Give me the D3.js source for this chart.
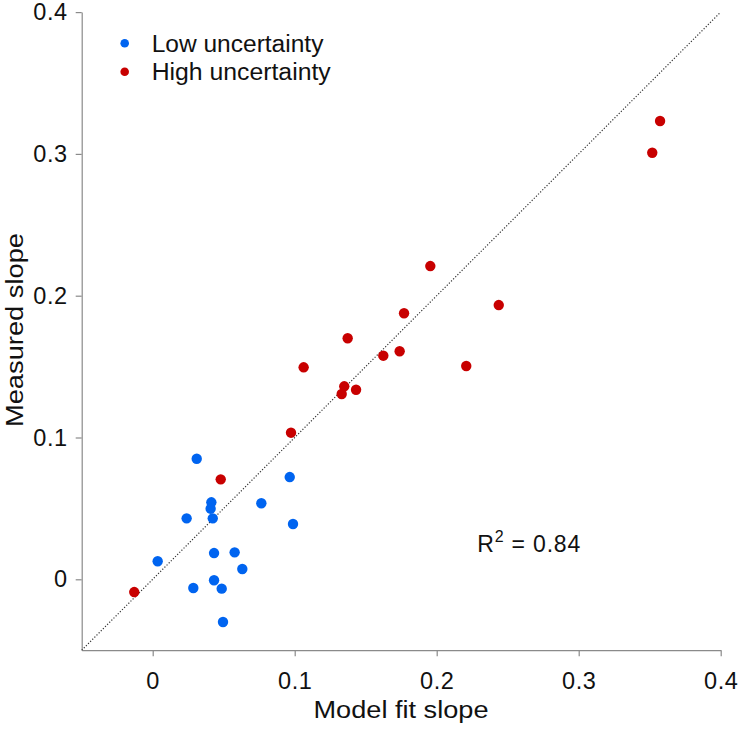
<!DOCTYPE html>
<html>
<head>
<meta charset="utf-8">
<script src="https://cdn.jsdelivr.net/npm/d3@7"></script>
<style>
  html, body { margin: 0; padding: 0; background: #fff; }
  svg { display: block; }
  text { font-family: "Liberation Sans", Arial, Helvetica, sans-serif; fill: #111; }
</style>
</head>
<body>
<svg id="chart" width="740" height="729"></svg>
<script>
// ---- Data ----
const lowX  = [0.031, 0.0413, 0.0408, 0.0239, 0.0423, 0.0765, 0.0965, 0.0988, 0.0035, 0.0432, 0.0577, 0.0631, 0.0432, 0.0286, 0.0486, 0.0495];
const lowY  = [0.085, 0.0543, 0.0498, 0.043, 0.043, 0.0536, 0.0721, 0.039, 0.0127, 0.0185, 0.019, 0.0073, -0.0007, -0.0061, -0.0066, -0.0301];
const highX = [-0.013, 0.0479, 0.0974, 0.1063, 0.1349, 0.1331, 0.1432, 0.1373, 0.1624, 0.1739, 0.177, 0.1955, 0.2437, 0.2208, 0.3518, 0.3573];
const highY = [-0.009, 0.0705, 0.1034, 0.1495, 0.1361, 0.1307, 0.1337, 0.170, 0.1577, 0.1608, 0.1876, 0.2209, 0.1934, 0.1504, 0.3008, 0.3232];
const xTicks = [0, 0.1, 0.2, 0.3, 0.4];
const yTicks = [0, 0.1, 0.2, 0.3, 0.4];
const seriesNames = ["Low uncertainty", "High uncertainty"];
const seriesColors = ["#0064f0", "#c80000"];
const rSquared = "0.84";

// ---- Scales ----
const svg = d3.select("#chart");
const x = d3.scaleLinear().domain([-0.05, 0.4]).range([81.7, 720.7]);
const y = d3.scaleLinear().domain([-0.05, 0.4]).range([650.2, 12.1]);
const fmt = v => v === 0 ? "0" : d3.format(".1f")(v);

// ---- Axes ----
const axisColor = "#8a8a8a";
const gx = svg.append("g").attr("transform", `translate(0,${y(-0.05)})`)
  .call(d3.axisBottom(x).tickValues(xTicks).tickFormat(fmt).tickSize(6).tickSizeOuter(0).tickPadding(8));
const gy = svg.append("g").attr("transform", `translate(${x(-0.05)},0)`)
  .call(d3.axisLeft(y).tickValues(yTicks).tickFormat(fmt).tickSize(6).tickSizeOuter(0).tickPadding(8));
[gx, gy].forEach(g => {
  g.select(".domain").attr("stroke", axisColor).attr("stroke-width", 1.2);
  g.selectAll(".tick line").attr("stroke", axisColor).attr("stroke-width", 1.2);
  g.selectAll(".tick text").attr("font-size", 23.5).attr("fill", "#111")
    .attr("font-family", "Liberation Sans, Arial, sans-serif")
    .style("letter-spacing", "0.6px");
});
gx.selectAll(".tick text").attr("dy", "1.06em");
gy.selectAll(".tick text").attr("dx", "0px");

// ---- Identity line ----
svg.append("line")
  .attr("x1", x(-0.05)).attr("y1", y(-0.05))
  .attr("x2", x(0.4)).attr("y2", y(0.4))
  .attr("stroke", "#333").attr("stroke-width", 1.2)
  .attr("stroke-dasharray", "1.2,1.8");

// ---- Points ----
const lowData = lowX.map((v, i) => ({x: v, y: lowY[i]}));
const highData = highX.map((v, i) => ({x: v, y: highY[i]}));
svg.append("g").selectAll("circle").data(lowData).join("circle")
  .attr("cx", d => x(d.x)).attr("cy", d => y(d.y)).attr("r", 5.2)
  .attr("fill", seriesColors[0]);
svg.append("g").selectAll("circle").data(highData).join("circle")
  .attr("cx", d => x(d.x)).attr("cy", d => y(d.y)).attr("r", 5.2)
  .attr("fill", seriesColors[1]);

// ---- Legend ----
const legend = svg.append("g");
const legW = [171.7, 179];
seriesNames.forEach((name, i) => {
  const cy = 43.3 + i * 28.4;
  legend.append("circle").attr("cx", 124.7).attr("cy", cy).attr("r", 4.3).attr("fill", seriesColors[i]);
  legend.append("text").attr("x", 151.7).attr("y", cy + 8.2)
    .attr("font-size", 23).attr("textLength", legW[i]).attr("lengthAdjust", "spacingAndGlyphs")
    .text(name);
});

// ---- Axis titles ----
svg.append("text").attr("x", 401).attr("y", 718.3).attr("text-anchor", "middle")
  .attr("font-size", 23).attr("textLength", 175).attr("lengthAdjust", "spacingAndGlyphs")
  .text("Model fit slope");
svg.append("text").attr("transform", "translate(23.3,330) rotate(-90)").attr("text-anchor", "middle")
  .attr("font-size", 23).attr("textLength", 194).attr("lengthAdjust", "spacingAndGlyphs")
  .text("Measured slope");

// ---- R^2 annotation ----
const rt = svg.append("text").attr("x", 477.3).attr("y", 551.7).attr("font-size", 23)
  .style("letter-spacing", "0.8px");
rt.append("tspan").text("R");
rt.append("tspan").attr("font-size", 16).attr("dy", -10).text("2");
rt.append("tspan").attr("dy", 10).text(" = " + rSquared);
</script>
</body>
</html>
